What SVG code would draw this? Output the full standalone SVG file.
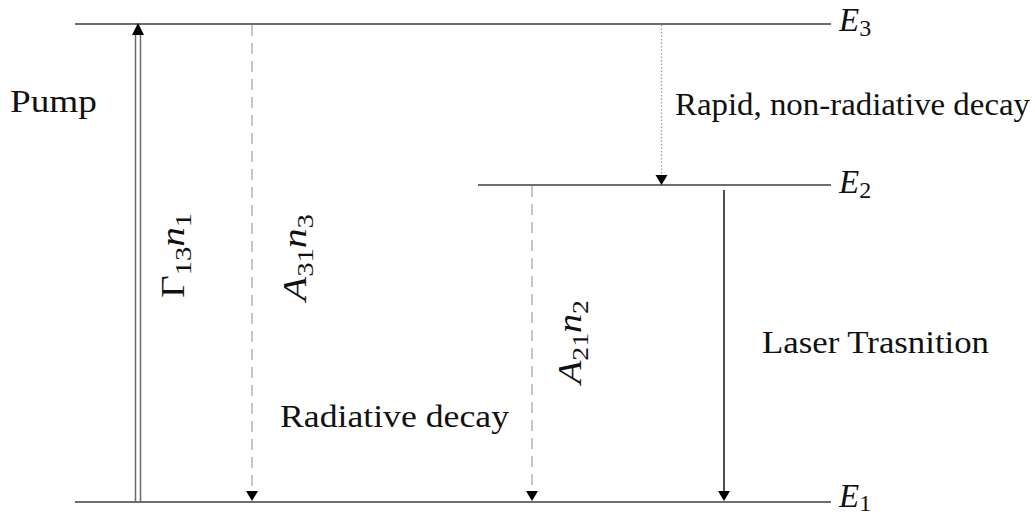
<svg xmlns="http://www.w3.org/2000/svg" width="1035" height="518" viewBox="0 0 1035 518">
<style>
.lvl{stroke:#6e6e6e;stroke-width:2;fill:none}
.dash{stroke:#b4b4b4;stroke-width:1.5;stroke-dasharray:11 7;fill:none}
.dot{stroke:#9a9a9a;stroke-width:1.2;stroke-dasharray:1.5 2;fill:none}
.solid{stroke:#111;stroke-width:1.5;fill:none}
.dbl{stroke:#6a6a6a;stroke-width:1.5;fill:none}
text{font-family:'Liberation Serif','Times New Roman',Times,serif;fill:#111}
.t{font-size:31px}
.m{font-style:italic;font-size:33px}
.s{font-style:normal;font-size:24px}
.hd{fill:#000}
</style>
<g id="levels">
<g id="E3"><line class="lvl" x1="75" y1="24" x2="831" y2="24"/><text class="m" x="839" y="31">E<tspan class="s" dy="5">3</tspan></text></g>
<g id="E2"><line class="lvl" x1="478" y1="185" x2="831" y2="185"/><text class="m" x="839" y="193">E<tspan class="s" dy="5">2</tspan></text></g>
<g id="E1"><line class="lvl" x1="75" y1="502" x2="831" y2="502"/><text class="m" x="839" y="507">E<tspan class="s" dy="4">1</tspan></text></g>
</g>
<g id="connectors">
<g id="pump-arrow"><line class="dbl" x1="135.5" y1="502" x2="135.5" y2="33"/><line class="dbl" x1="140.5" y1="502" x2="140.5" y2="33"/><polygon class="hd" points="138,23 132,35 144,35"/></g>
<g id="a31-arrow"><line class="dash" x1="252" y1="25" x2="252" y2="492"/><polygon class="hd" points="252,501 246,491 258,491"/></g>
<g id="rapid-arrow"><line class="dot" x1="661.5" y1="25" x2="661.5" y2="176"/><polygon class="hd" points="661.5,185 655.5,175 667.5,175"/></g>
<g id="a21-arrow"><line class="dash" x1="532" y1="186" x2="532" y2="492"/><polygon class="hd" points="532,501 526,491 538,491"/></g>
<g id="laser-arrow"><line class="solid" x1="724" y1="190" x2="724" y2="492"/><polygon class="hd" points="724,501 718,491 730,491"/></g>
</g>
<g id="labels">
<text class="t" x="10" y="112" textLength="87" lengthAdjust="spacingAndGlyphs">Pump</text>
<text class="t" x="675" y="115" textLength="355" lengthAdjust="spacingAndGlyphs">Rapid, non-radiative decay</text>
<text class="t" x="762" y="353" textLength="227" lengthAdjust="spacingAndGlyphs">Laser Trasnition</text>
<text class="t" x="280" y="427" textLength="229" lengthAdjust="spacingAndGlyphs">Radiative decay</text>
<text class="m" transform="translate(184,298) rotate(-90)" textLength="85" lengthAdjust="spacingAndGlyphs"><tspan style="font-style:normal">Γ</tspan><tspan class="s" dy="7">13</tspan><tspan dy="-7">n</tspan><tspan class="s" dy="7">1</tspan></text>
<text class="m" transform="translate(306,301) rotate(-90)" textLength="87" lengthAdjust="spacingAndGlyphs">A<tspan class="s" dy="7">31</tspan><tspan dy="-7">n</tspan><tspan class="s" dy="7">3</tspan></text>
<text class="m" transform="translate(581,384) rotate(-90)" textLength="84" lengthAdjust="spacingAndGlyphs">A<tspan class="s" dy="7">21</tspan><tspan dy="-7">n</tspan><tspan class="s" dy="7">2</tspan></text>
</g>
</svg>
